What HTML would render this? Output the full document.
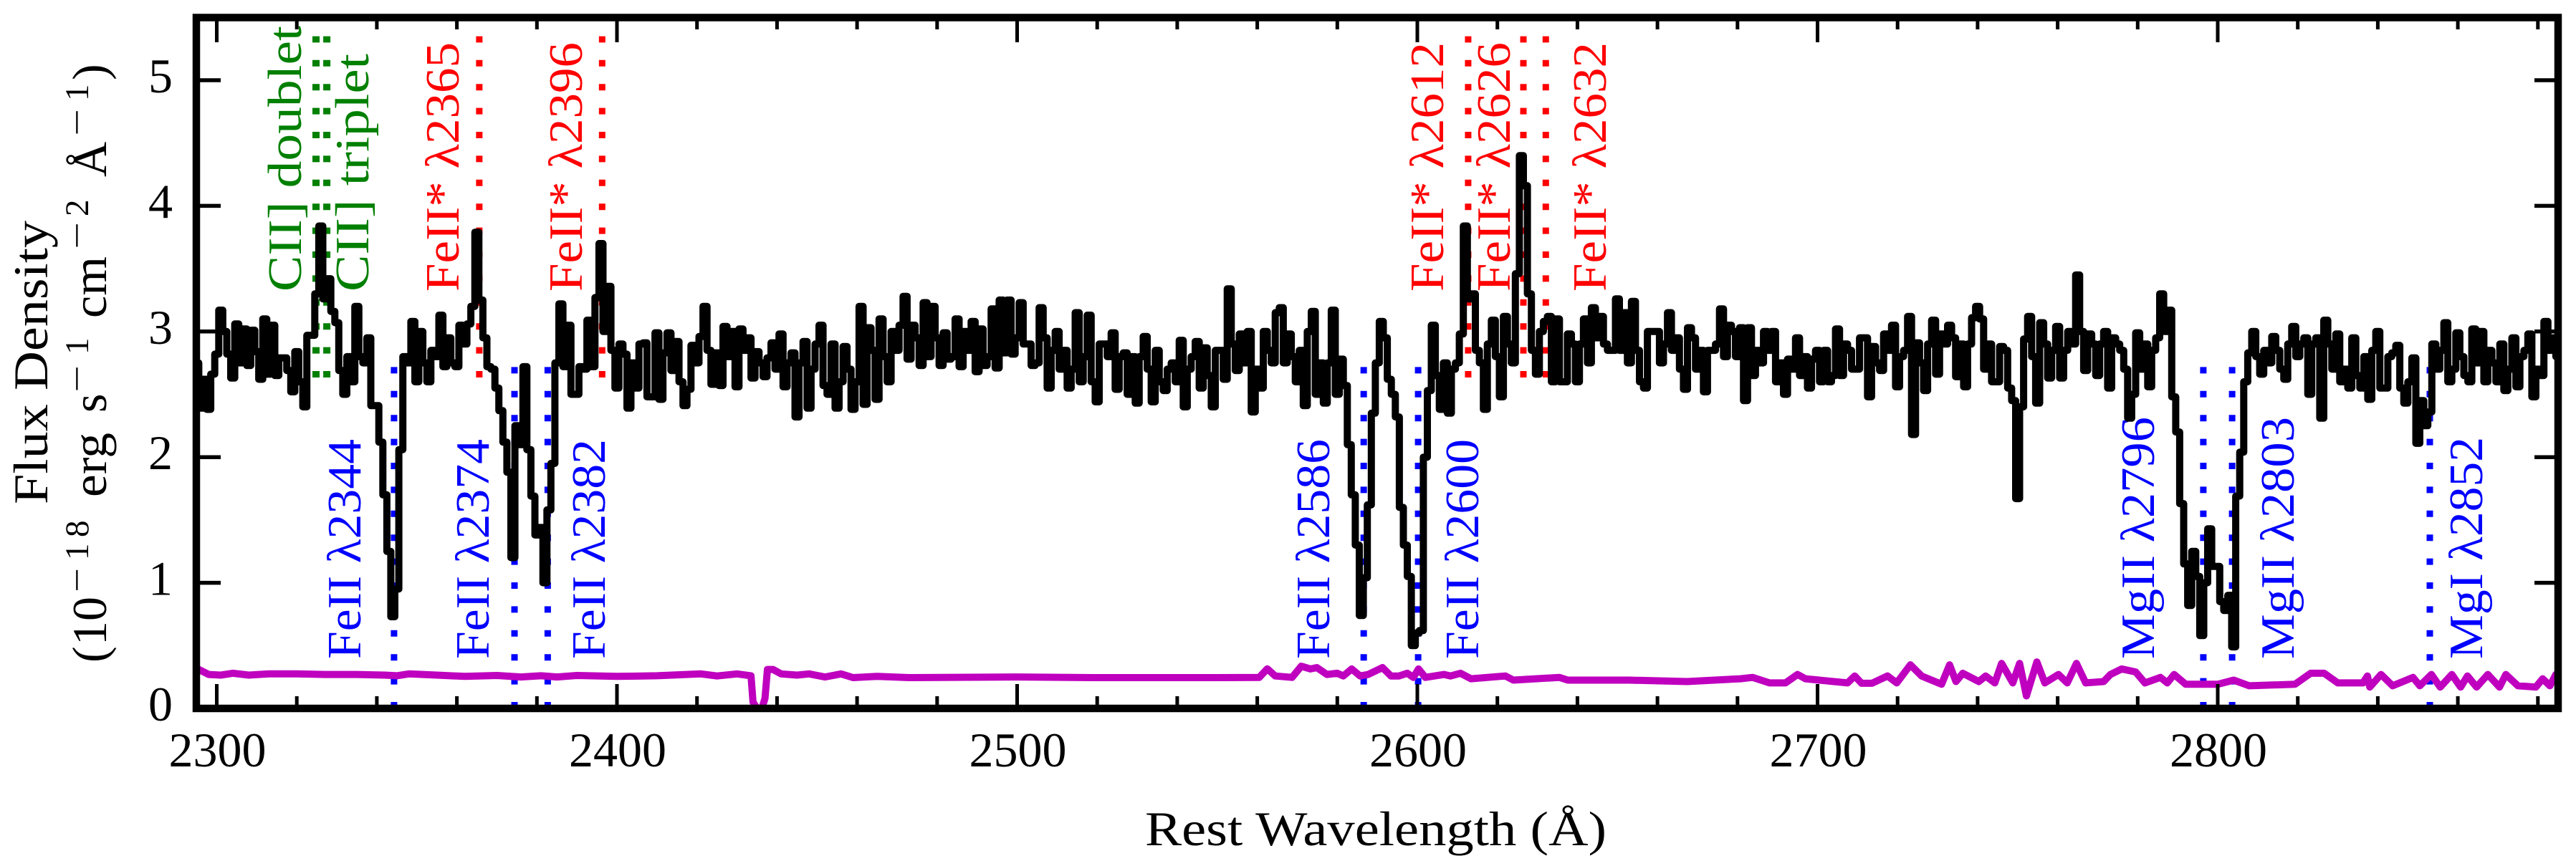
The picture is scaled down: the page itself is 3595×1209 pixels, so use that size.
<!DOCTYPE html>
<html lang="en">
<head>
<meta charset="utf-8">
<title>Rest-frame spectrum</title>
<style>
html,body{margin:0;padding:0;background:#fff;}
svg{display:block;}
text{font-family:"Liberation Serif",serif;}
.lab{font-size:67px;}
.main{font-size:68px;fill:#000;}
.sup{font-size:47px;fill:#000;}
</style>
</head>
<body>
<svg id="chart" xmlns="http://www.w3.org/2000/svg" width="3595" height="1209" viewBox="0 0 3595 1209">
<defs><clipPath id="plot-clip"><rect x="274" y="24.5" width="3296" height="964.5"/></clipPath></defs>
<rect x="0" y="0" width="3595" height="1209" fill="#fff"/>
<g id="line-markers"></g>

<g class="lab" fill="#0000ff">
<text transform="translate(503,920) rotate(-90)" textLength="307" lengthAdjust="spacingAndGlyphs">FeII λ2344</text>
<text transform="translate(682,920) rotate(-90)" textLength="307" lengthAdjust="spacingAndGlyphs">FeII λ2374</text>
<text transform="translate(844,920) rotate(-90)" textLength="307" lengthAdjust="spacingAndGlyphs">FeII λ2382</text>
<text transform="translate(1855,920) rotate(-90)" textLength="307" lengthAdjust="spacingAndGlyphs">FeII λ2586</text>
<text transform="translate(2063,920) rotate(-90)" textLength="307" lengthAdjust="spacingAndGlyphs">FeII λ2600</text>
<text transform="translate(3006,920) rotate(-90)" textLength="338" lengthAdjust="spacingAndGlyphs">MgII λ2796</text>
<text transform="translate(3201,920) rotate(-90)" textLength="338" lengthAdjust="spacingAndGlyphs">MgII λ2803</text>
<text transform="translate(3464,920) rotate(-90)" textLength="310" lengthAdjust="spacingAndGlyphs">MgI λ2852</text>
</g>
<g class="lab" fill="#ff0000">
<text transform="translate(640,407) rotate(-90)" textLength="348" lengthAdjust="spacingAndGlyphs">FeII* λ2365</text>
<text transform="translate(812,407) rotate(-90)" textLength="348" lengthAdjust="spacingAndGlyphs">FeII* λ2396</text>
<text transform="translate(2014,407) rotate(-90)" textLength="348" lengthAdjust="spacingAndGlyphs">FeII* λ2612</text>
<text transform="translate(2107,407) rotate(-90)" textLength="348" lengthAdjust="spacingAndGlyphs">FeII* λ2626</text>
<text transform="translate(2241,407) rotate(-90)" textLength="348" lengthAdjust="spacingAndGlyphs">FeII* λ2632</text>
</g>
<g class="lab" fill="#008000">
<text transform="translate(420,407) rotate(-90)" textLength="371" lengthAdjust="spacingAndGlyphs">CII] doublet</text>
<text transform="translate(514,407) rotate(-90)" textLength="332" lengthAdjust="spacingAndGlyphs">CII] triplet</text>
</g>

<path id="flux-line" clip-path="url(#plot-clip)" fill="none" stroke="#000" stroke-width="10" stroke-linejoin="round" stroke-linecap="round"/>
<path id="error-line" clip-path="url(#plot-clip)" fill="none" stroke="#bf00bf" stroke-width="10" stroke-linejoin="round" stroke-linecap="round"/>

<g id="ticks"></g>
<rect x="274" y="24.5" width="3296" height="964.5" fill="none" stroke="#000" stroke-width="10.5"/>
<g id="tick-labels"></g>

<text class="main" x="1598" y="1180" textLength="644" lengthAdjust="spacingAndGlyphs">Rest Wavelength (Å)</text>
<text class="main" transform="translate(66,704) rotate(-90)" textLength="396" lengthAdjust="spacingAndGlyphs">Flux Density</text>
<g>
<text class="main" transform="translate(148,925) rotate(-90)">(</text>
<text class="main" transform="translate(148,901) rotate(-90)">10</text>
<text class="sup" transform="translate(123,827) rotate(-90)" textLength="34" lengthAdjust="spacingAndGlyphs">−</text>
<text class="sup" transform="translate(123,782) rotate(-90)">1</text>
<text class="sup" transform="translate(123,750) rotate(-90)">8</text>
<text class="main" transform="translate(148,694) rotate(-90)" textLength="90" lengthAdjust="spacingAndGlyphs">erg</text>
<text class="main" transform="translate(148,576) rotate(-90)">s</text>
<text class="sup" transform="translate(123,548) rotate(-90)" textLength="38" lengthAdjust="spacingAndGlyphs">−</text>
<text class="sup" transform="translate(123,495) rotate(-90)">1</text>
<text class="main" transform="translate(148,444) rotate(-90)" textLength="86" lengthAdjust="spacingAndGlyphs">cm</text>
<text class="sup" transform="translate(123,348) rotate(-90)" textLength="38" lengthAdjust="spacingAndGlyphs">−</text>
<text class="sup" transform="translate(123,302) rotate(-90)">2</text>
<text class="main" transform="translate(148,247) rotate(-90)">Å</text>
<text class="sup" transform="translate(123,190) rotate(-90)" textLength="38" lengthAdjust="spacingAndGlyphs">−</text>
<text class="sup" transform="translate(123,141) rotate(-90)">1</text>
<text class="main" transform="translate(148,112) rotate(-90)">)</text>
</g>
</svg>
<script>
const xMajorTicks = [2300, 2400, 2500, 2600, 2700, 2800];
const xMinorTicks = [2320, 2340, 2360, 2380, 2420, 2440, 2460, 2480, 2520, 2540, 2560, 2580, 2620, 2640, 2660, 2680, 2720, 2740, 2760, 2780, 2820, 2840, 2860, 2880];
const yTicks = [0, 1, 2, 3, 4, 5];

const blueLines = [2344.3, 2374.4, 2382.7, 2586.6, 2600.2, 2796.4, 2803.6, 2853];
const redLines = [2365.6, 2396.3, 2612.7, 2626.5, 2632.1];
const greenLines = [2324.8, 2327.5];
const absorptionRange = [0, 2.72];
const emissionRange = [2.634, 5.35];

const segmentStarts = [2295, 2346, 2407, 2460, 2513, 2552, 2584, 2640, 2680, 2711, 2750, 2790, 2840];
const flux2295 = [2.75,2.39,2.62,2.38,2.66,2.82,3.17,3.0,2.82,2.63,3.06,2.75,3.02,2.73,3.01,2.84,2.62,3.1,2.66,3.05,2.65,2.79,2.79,2.69,2.52,2.84,2.6,2.4,2.97,2.97,3.3,3.84,3.26,3.42,3.16,3.07,2.69,2.5,2.8,2.6,3.2,2.8,2.75,2.95,2.41,2.41,2.12,1.7,1.25,0.73,0.95];
const flux2346 = [2.06,2.8,2.75,3.08,2.6,3.0,2.75,2.6,2.85,2.8,3.13,2.72,2.95,2.75,2.72,3.05,2.9,3.06,3.2,3.79,3.25,2.95,2.72,2.7,2.55,2.37,2.12,1.88,1.2,2.25,2.1,2.72,2.06,1.69,1.38,1.44,1.0,1.58,1.95,2.75,3.22,2.72,3.05,2.5,2.5,2.72,2.7,3.09,2.72,3.27,3.7,3.0,3.36,2.85,2.55,2.9,2.82,2.39,2.75,2.55,2.9];
const flux2407 = [2.91,2.48,2.48,2.99,2.46,2.83,2.99,2.69,2.92,2.6,2.41,2.54,2.89,2.75,2.96,3.2,2.85,2.58,2.83,2.57,3.04,2.8,3.0,2.56,3.02,2.85,2.95,2.63,2.84,2.75,2.64,2.79,2.91,2.7,2.98,2.56,2.75,2.83,2.32,2.75,2.92,2.39,2.7,2.9,3.05,2.57,2.5,2.9,2.39,2.6,2.88,2.7,2.38];
const flux2460 = [2.6,3.2,2.42,3.03,2.85,2.46,3.1,2.8,2.6,3.0,2.85,3.05,3.28,2.78,3.05,2.95,2.73,3.23,2.8,3.2,2.95,2.73,2.99,2.78,2.8,3.1,2.72,3.0,2.85,3.08,2.68,3.02,2.73,2.8,3.18,2.71,3.25,2.83,3.25,2.82,2.95,3.23,2.9,2.9,2.73,2.75,3.19,2.95,2.55,2.85,3.0,2.7,2.85];
const flux2513 = [2.55,2.7,3.15,2.6,2.8,3.13,2.6,2.44,2.9,2.9,2.8,2.99,2.54,2.8,2.83,2.5,2.8,2.43,2.8,2.96,2.7,2.44,2.85,2.6,2.53,2.7,2.75,2.6,2.93,2.4,2.7,2.8,2.92,2.55,2.87,2.65,2.4,2.85,2.85];
const flux2552 = [2.62,3.34,2.9,2.69,2.98,2.75,3.0,2.36,2.7,2.55,3.0,2.85,2.75,3.15,3.19,2.75,2.98,2.8,2.6,2.85,2.41,3.0,3.16,2.5,2.75,2.43,2.75,3.17,2.5,2.78,2.57,2.1];
const flux2584 = [1.7,1.3,0.74,1.04,1.62,2.35,2.75,3.08,2.95,2.62,2.5,2.32,1.6,1.3,1.05,0.5,0.6,0.62,2.0,2.53,3.05,2.65,2.38,2.75,2.35,2.7,2.75,2.98,3.84,3.26,3.3,2.85,2.75,2.38,2.9,3.09,2.8,2.48,3.12,2.9,2.75,3.46,4.4,4.16,3.3,2.85,2.66,3.0,3.08,3.12,2.6,3.1,2.6,2.6,2.98,2.9];
const flux2640 = [2.6,2.9,3.1,2.75,3.19,2.95,3.12,2.9,2.85,2.85,3.26,2.85,3.15,2.75,3.24,2.85,2.6,2.55,3.0,3.0,3.0,2.75,2.9,3.15,2.85,2.95,2.7,2.54,3.03,2.95,2.7,2.85,2.52,2.85,2.85,2.9,3.18,2.8,3.05,3.0];
const flux2680 = [2.8,3.03,2.45,3.03,2.65,2.85,2.75,3.0,2.85,3.0,2.6,2.75,2.5,2.78,2.7,2.95,2.65,2.8,2.55,2.78,2.85,2.6,2.85,2.6,2.65,3.02,2.65,2.9,2.85,2.7,2.7];
const flux2711 = [2.95,2.95,2.48,2.88,2.75,2.69,2.98,2.85,3.05,2.56,2.8,2.85,3.12,2.18,2.91,2.75,2.53,2.9,3.09,2.66,2.98,2.9,3.05,2.95,2.64,2.9,2.56,2.9,3.11,3.2,3.1,2.7,2.9,2.6,2.6,2.88,2.85,2.55,2.45];
const flux2750 = [1.67,2.4,2.94,3.12,2.8,2.43,3.07,2.9,2.63,2.85,3.04,2.63,2.85,3.0,2.9,3.45,3.0,2.69,2.98,2.9,2.65,2.9,3.0,2.55,2.95,2.9,2.85,2.7,2.31,2.5,2.99,2.7,2.9,2.56,2.85,2.95,3.3,3.0,3.17,2.48];
const flux2790 = [2.2,1.63,1.15,0.82,1.25,1.05,0.58,1.0,1.43,1.13,1.13,0.85,0.78,0.9,0.49,1.69,2.04,2.6,2.83,3.0,2.8,2.66,2.85,2.75,2.96,2.85,2.7,2.62,2.9,3.04,2.8,2.9,2.95,2.5,2.9,2.95,2.31,3.09,2.9,2.7,2.98,2.6,2.7,2.55,2.95,2.65,2.55,2.8,2.46,2.85];
const flux2840 = [3.0,2.55,2.55,2.8,2.83,2.89,2.55,2.43,2.6,2.79,2.11,2.45,2.25,2.36,2.9,2.7,2.85,3.07,2.6,2.7,2.99,2.8,2.65,2.6,3.02,2.75,3.0,2.6,2.85,2.75,2.6,2.9,2.53,2.7,2.95,2.56,2.8,2.85,2.98,2.48,2.7,2.65,3.08,2.85,2.95,2.8];
const fluxSegments = [flux2295, flux2346, flux2407, flux2460, flux2513, flux2552, flux2584, flux2640, flux2680, flux2711, flux2750, flux2790, flux2840];

const errorWavelengths = [2295.5,2298,2301,2304,2308,2313,2320,2327,2335,2342,2345,2348,2355,2362,2370,2376,2381,2385,2390,2400,2410,2421,2425,2430,2433.5,2434,2435,2436,2437,2437.6,2439,2441,2445,2448,2452,2456,2459,2465,2473,2500,2520,2540,2550,2560.5,2562.5,2564.5,2568.7,2571,2573.3,2574.9,2577.4,2580,2581.5,2583.6,2585.7,2587.7,2591.3,2593.4,2595.4,2597.5,2599,2600.3,2602,2606.7,2608.3,2610.8,2613.4,2622,2624,2635.5,2637.6,2653,2667.4,2680.7,2683.8,2688,2692,2695,2697,2707.5,2709.3,2711,2713.6,2717.5,2719.8,2723.2,2726,2731,2733,2734.6,2736.3,2740.3,2742,2744.3,2746,2748.8,2750.5,2752.2,2754.8,2756.8,2760.2,2762.4,2764.7,2767,2771.5,2773.2,2776,2779.5,2781.8,2785.7,2787.4,2789.1,2792,2800,2804,2807.9,2819.3,2823.2,2826.6,2830,2836.3,2837.4,2838,2840.8,2843.7,2848.8,2850.5,2853.4,2855.6,2858.5,2860.7,2862.4,2864.7,2867.5,2870.4,2872,2875,2879.5,2881.2,2883,2884.5];
const errorFlux = [0.31,0.27,0.265,0.28,0.265,0.275,0.275,0.27,0.27,0.265,0.26,0.275,0.265,0.255,0.262,0.25,0.26,0.25,0.262,0.255,0.26,0.275,0.258,0.275,0.26,0.05,0,-0.02,0.08,0.31,0.31,0.275,0.265,0.275,0.25,0.275,0.245,0.255,0.245,0.25,0.245,0.245,0.245,0.247,0.315,0.258,0.247,0.336,0.314,0.325,0.27,0.28,0.258,0.314,0.258,0.27,0.325,0.258,0.258,0.28,0.247,0.314,0.247,0.27,0.258,0.28,0.236,0.258,0.225,0.247,0.225,0.225,0.214,0.236,0.247,0.203,0.203,0.27,0.236,0.203,0.258,0.2,0.2,0.258,0.203,0.347,0.258,0.192,0.347,0.214,0.28,0.214,0.258,0.203,0.358,0.203,0.358,0.1,0.37,0.203,0.27,0.203,0.358,0.203,0.214,0.27,0.314,0.29,0.203,0.247,0.203,0.27,0.192,0.192,0.225,0.18,0.192,0.28,0.28,0.203,0.203,0.258,0.17,0.27,0.18,0.247,0.18,0.27,0.17,0.27,0.17,0.258,0.17,0.27,0.17,0.27,0.18,0.17,0.236,0.18,0.27];

function xScale(wavelength) { return 302.5 + (wavelength - 2300) * 5.585; }
function yScale(value) { return 989 - value * 175.4; }

const NS = 'http://www.w3.org/2000/svg';
function make(tag, parent) {
  const el = document.createElementNS(NS, tag);
  parent.appendChild(el);
  return el;
}
function put(el, key, val) { el.setAttribute(key, val); }

const markerLayer = document.getElementById('line-markers');
function drawMarker(wavelength, range, colour, dotSize) {
  const el = make('line', markerLayer);
  
  
  put(el, 'x1', xScale(wavelength));
  put(el, 'x2', xScale(wavelength));
  put(el, 'y1', yScale(range[0]));
  put(el, 'y2', yScale(range[1]));
  put(el, 'stroke', colour);
  put(el, 'stroke-width', dotSize);
  put(el, 'stroke-dasharray', '9 24.4');
}
blueLines.forEach(function (w) { drawMarker(w, absorptionRange, '#0000ff', 9); });
redLines.forEach(function (w) { drawMarker(w, emissionRange, '#ff0000', 9); });
greenLines.forEach(function (w) { drawMarker(w, emissionRange, '#008000', 10); });

let fluxPath = '';
fluxSegments.forEach(function (segment, s) {
  segment.forEach(function (value, i) {
    const w = segmentStarts[s] + i;
    const x0 = xScale(w - 0.5).toFixed(1);
    const x1 = xScale(w + 0.5).toFixed(1);
    const y = yScale(value).toFixed(1);
    fluxPath += (fluxPath ? 'L' : 'M') + x0 + ' ' + y + 'L' + x1 + ' ' + y;
  });
});
document.getElementById('flux-line').setAttribute('d', fluxPath);

let errorPath = '';
errorWavelengths.forEach(function (w, i) {
  errorPath += (i ? 'L' : 'M') + xScale(w).toFixed(1) + ' ' + yScale(errorFlux[i]).toFixed(1);
});
document.getElementById('error-line').setAttribute('d', errorPath);

const tickLayer = document.getElementById('ticks');
function drawTick(x1, y1, x2, y2, width) {
  const el = make('line', tickLayer);
  
  
  put(el, 'x1', x1);
  put(el, 'y1', y1);
  put(el, 'x2', x2);
  put(el, 'y2', y2);
  put(el, 'stroke', '#000');
  put(el, 'stroke-width', width);
}
xMajorTicks.forEach(function (w) {
  drawTick(xScale(w), 989, xScale(w), 955, 5);
  drawTick(xScale(w), 24.5, xScale(w), 59, 5);
});
xMinorTicks.forEach(function (w) {
  drawTick(xScale(w), 989, xScale(w), 972, 5);
  drawTick(xScale(w), 24.5, xScale(w), 41, 5);
});
yTicks.forEach(function (v) {
  drawTick(274, yScale(v), 308, yScale(v), 5.5);
  drawTick(3570, yScale(v), 3537, yScale(v), 5.5);
});

const labelLayer = document.getElementById('tick-labels');
xMajorTicks.forEach(function (w) {
  const el = make('text', labelLayer);
  
  
  put(el, 'x', xScale(w) + 1);
  put(el, 'y', 1070);
  put(el, 'text-anchor', 'middle');
  put(el, 'class', 'main');
  el.textContent = String(w);
});
yTicks.forEach(function (v) {
  const el = make('text', labelLayer);
  
  
  put(el, 'x', 224);
  put(el, 'y', yScale(v) + 17);
  put(el, 'text-anchor', 'middle');
  put(el, 'class', 'main');
  el.textContent = String(v);
});
</script>
</body>
</html>
